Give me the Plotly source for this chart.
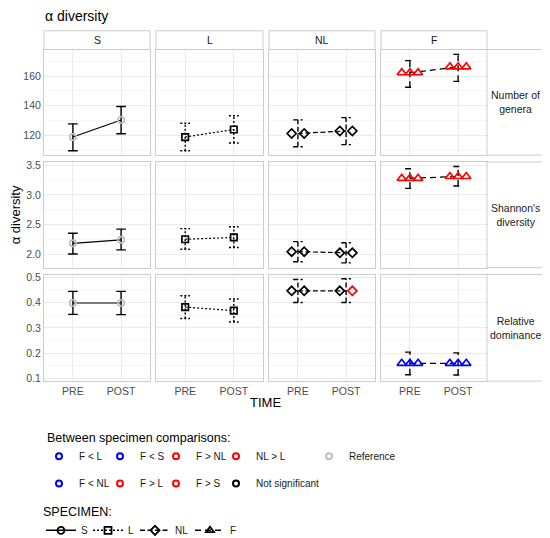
import plotly.graph_objects as go

W, H = 550, 538
OFF = 8  # page body margin in the browser

times = ["PRE", "POST"]
specimens = ["S", "L", "NL", "F"]
metrics = ["Number of<br>genera", "Shannon's<br>diversity", "Relative<br>dominance"]

# metric -> specimen -> [PRE, POST]
mean_vals = [
    [[118.9, 130.4], [118.9, 124.0], [121.3, 123.0], [162.3, 166.3]],
    [[2.18, 2.24], [2.25, 2.28], [2.04, 2.02], [3.28, 3.31]],
    [[0.398, 0.398], [0.382, 0.368], [0.446, 0.446], [0.160, 0.160]],
]
lower_vals = [
    [[109.6, 121.1], [109.6, 114.9], [112.4, 113.8], [152.5, 156.5]],
    [[2.00, 2.07], [2.08, 2.11], [1.87, 1.85], [3.11, 3.15]],
    [[0.353, 0.352], [0.337, 0.323], [0.400, 0.400], [0.115, 0.114]],
]
upper_vals = [
    [[127.8, 139.5], [128.2, 133.3], [130.5, 132.0], [170.5, 174.7]],
    [[2.35, 2.42], [2.43, 2.46], [2.21, 2.19], [3.44, 3.48]],
    [[0.444, 0.444], [0.427, 0.414], [0.491, 0.494], [0.204, 0.201]],
]

GREY, BLK, RED, BLUE = "#BEBEBE", "#000000", "#FF0000", "#0000FF"

# colour of each comparison point: metric -> specimen -> [PRE list, POST list]
point_colors = [
    [[[GREY], [GREY]], [[BLK], [BLK]], [[BLK, BLK], [BLK, BLK]], [[RED, RED, RED], [RED, RED, RED]]],
    [[[GREY], [GREY]], [[BLK], [BLK]], [[BLK, BLK], [BLK, BLK]], [[RED, RED, RED], [RED, RED, RED]]],
    [[[GREY], [GREY]], [[BLK], [BLK]], [[BLK, BLK], [BLK, RED]], [[BLUE, BLUE, BLUE], [BLUE, BLUE, BLUE]]],
]

comp_row1 = ["F < L", "F < S", "F > NL", "NL > L", "Reference"]
comp_row1_colors = [BLUE, BLUE, RED, RED, GREY]
comp_row2 = ["F < NL", "F > L", "F > S", "Not significant"]
comp_row2_colors = [BLUE, RED, RED, BLK]

# ---- styling ----
symbols = ["circle-open", "square-open", "diamond-open", "triangle-up-open"]
sym_size = [6.5, 6.5, 7, 8]
dashes = ["solid", "2px,2px", "5px,2.5px", "6px,4px"]
dodge = [[0], [0], [-0.13, 0.13], [-0.17, 0, 0.17]]
cap = 0.1

cols_px = [(44, 150), (156, 263), (269, 375), (381, 487)]
rows_px = [(46, 153), (160, 267), (274, 382)]
y_ranges = [[106.7, 178], [1.77, 3.555], [0.0895, 0.5105]]
y_dtick = [20, 0.5, 0.1]
y_minor = [10, 0.25, 0.05]
y_fmt = ["d", ".1f", ".1f"]

FONT = "Liberation Sans, Arial, sans-serif"


def px_x(v):
    return (v - OFF) / W


def px_y(v):
    return 1 - (v - OFF) / H


fig = go.Figure()
layout = {}

for r in range(3):
    for c in range(4):
        k = r * 4 + c + 1
        xa = "x" if k == 1 else f"x{k}"
        ya = "y" if k == 1 else f"y{k}"

        # error bars
        ex, ey = [], []
        for t in range(2):
            xt = t + 1
            lo, hi = lower_vals[r][c][t], upper_vals[r][c][t]
            ex += [xt, xt, None, xt - cap, xt + cap, None, xt - cap, xt + cap, None]
            ey += [lo, hi, None, hi, hi, None, lo, lo, None]
        fig.add_trace(go.Scatter(x=ex, y=ey, mode="lines", xaxis=xa, yaxis=ya,
                                 line=dict(color="black", width=1.4, dash=dashes[c]),
                                 showlegend=False, hoverinfo="skip"))
        # connecting line
        fig.add_trace(go.Scatter(x=[1, 2], y=mean_vals[r][c], mode="lines", xaxis=xa, yaxis=ya,
                                 line=dict(color="black", width=1.2, dash=dashes[c]),
                                 showlegend=False, hoverinfo="skip"))
        # points
        px, py, pc = [], [], []
        for t in range(2):
            for off, col in zip(dodge[c], point_colors[r][c][t]):
                px.append(t + 1 + off)
                py.append(mean_vals[r][c][t])
                pc.append(col)
        fig.add_trace(go.Scatter(x=px, y=py, mode="markers", xaxis=xa, yaxis=ya,
                                 marker=dict(symbol=symbols[c], size=sym_size[c], color=pc,
                                             line=dict(color=pc, width=1.7)),
                                 showlegend=False, hoverinfo="skip"))

        x0, x1 = cols_px[c]
        y0, y1 = rows_px[r]
        xname = "xaxis" if k == 1 else f"xaxis{k}"
        yname = "yaxis" if k == 1 else f"yaxis{k}"
        layout[xname] = dict(
            domain=[px_x(x0), px_x(x1)], range=[0.4, 2.6], anchor=ya,
            tickmode="array", tickvals=[1, 2], ticktext=times,
            showticklabels=(r == 2), showgrid=True, gridcolor="#EBEBEB", gridwidth=1,
            zeroline=False, showline=True, mirror=True, linecolor="#CCCCCC", linewidth=1,
            ticks="", tickfont=dict(size=10.5, color="#4D4D4D"),
        )
        layout[yname] = dict(
            domain=[px_y(y1), px_y(y0)], range=y_ranges[r], anchor=xa,
            dtick=y_dtick[r], tick0=0, tickformat=y_fmt[r],
            showticklabels=(c == 0), showgrid=True, gridcolor="#EBEBEB", gridwidth=1,
            minor=dict(dtick=y_minor[r], tick0=0, showgrid=True, gridcolor="#F5F5F5", gridwidth=0.6),
            zeroline=False, showline=True, mirror=True, linecolor="#CCCCCC", linewidth=1,
            ticks="", tickfont=dict(size=10.5, color="#4D4D4D"),
        )

shapes = []
annotations = []
for c, (x0, x1) in enumerate(cols_px):
    shapes.append(dict(type="rect", xref="paper", yref="paper", x0=px_x(x0), x1=px_x(x1),
                       y0=px_y(46), y1=px_y(27), fillcolor="white",
                       line=dict(color="#CCCCCC", width=1)))
    annotations.append(dict(text=specimens[c], xref="paper", yref="paper",
                            x=px_x((x0 + x1) / 2), y=px_y(36.5), xanchor="center", yanchor="middle",
                            showarrow=False, font=dict(size=10.5, color="#1A1A1A")))
for r, (y0, y1) in enumerate(rows_px):
    shapes.append(dict(type="rect", xref="paper", yref="paper", x0=px_x(487), x1=px_x(544),
                       y0=px_y(y1), y1=px_y(y0), fillcolor="white",
                       line=dict(color="#CCCCCC", width=1)))
    annotations.append(dict(text=metrics[r], xref="paper", yref="paper",
                            x=px_x(515.5), y=px_y((y0 + y1) / 2), xanchor="center", yanchor="middle",
                            showarrow=False, font=dict(size=10.5, color="#1A1A1A")))

annotations.append(dict(text="α diversity", xref="paper", yref="paper", x=px_x(43), y=px_y(12),
                        xanchor="left", yanchor="middle", showarrow=False,
                        font=dict(size=14, color="black")))
annotations.append(dict(text="α diversity", xref="paper", yref="paper", x=px_x(15), y=px_y(214),
                        xanchor="center", yanchor="middle", textangle=-90, showarrow=False,
                        font=dict(size=13, color="black")))
annotations.append(dict(text="TIME", xref="paper", yref="paper", x=px_x(265), y=px_y(404),
                        xanchor="center", yanchor="middle", showarrow=False,
                        font=dict(size=13, color="black")))

# legend entries
row1_w = [22, 17, 21, 54, 60]
for name, col, lw in zip(comp_row1, comp_row1_colors, row1_w):
    fig.add_trace(go.Scatter(x=[None], y=[None], mode="markers", name=name, legend="legend",
                             legendwidth=lw,
                             marker=dict(symbol="circle-open", size=6, color=col,
                                         line=dict(color=col, width=2))))
row2_w = [22, 17, 21, 80]
for name, col, lw in zip(comp_row2, comp_row2_colors, row2_w):
    fig.add_trace(go.Scatter(x=[None], y=[None], mode="markers", name=name, legend="legend2",
                             legendwidth=lw,
                             marker=dict(symbol="circle-open", size=6, color=col,
                                         line=dict(color=col, width=2))))
spec_w = [2, 2, 10, 2]
for c, name in enumerate(specimens):
    fig.add_trace(go.Scatter(x=[None], y=[None], mode="lines+markers", name=name, legend="legend3",
                             legendwidth=spec_w[c],
                             line=dict(color="black", width=1.4, dash=dashes[c]),
                             marker=dict(symbol=symbols[c], size=7, color="black",
                                         line=dict(color="black", width=1.8))))

legend_common = dict(orientation="h", xanchor="left", yanchor="top", bgcolor="rgba(0,0,0,0)",
                     font=dict(size=10, color="#1A1A1A"), traceorder="normal")

fig.update_layout(
    width=W, height=H,
    margin=dict(l=0, r=0, t=0, b=0),
    paper_bgcolor="white", plot_bgcolor="white",
    font=dict(family=FONT, color="#1A1A1A"),
    shapes=shapes, annotations=annotations,
    legend=dict(x=px_x(45), y=px_y(427), indentation=-6,
                title=dict(text="Between specimen comparisons:", side="top",
                           font=dict(size=12.5, color="black")),
                **legend_common),
    legend2=dict(x=px_x(45), y=px_y(471), indentation=-6, **legend_common),
    legend3=dict(x=px_x(41), y=px_y(502),
                 title=dict(text="SPECIMEN:", side="top", font=dict(size=12.5, color="black")),
                 **legend_common),
    **layout,
)

fig.write_html("out.html")
